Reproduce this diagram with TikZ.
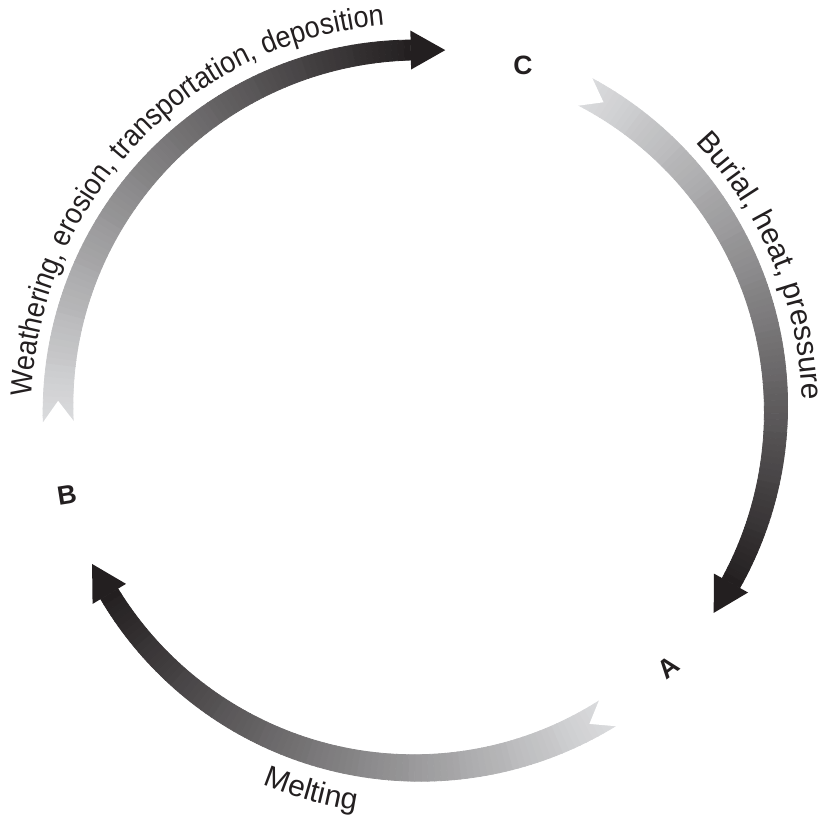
\documentclass[tikz,border=0pt]{standalone}
\usepackage{fontspec}
\setmainfont{Liberation Sans}
\newfontfamily\narrowfont[FakeStretch=0.9]{Liberation Sans}
\usetikzlibrary{decorations.text}

\definecolor{tailgray}{RGB}{218,219,221}
\definecolor{headgray}{RGB}{35,31,32}

\newcommand{\cyclesize}{\fontsize{15}{18}\selectfont}

\tikzset{
  stagelabel/.style={font=\fontsize{13.25}{16}\selectfont\bfseries, text=headgray, inner sep=0pt},
  arctext/.style={decorate, decoration={text along path, text align=center,
      text color=headgray, text={|\cyclesize|#1}}},
  narrowarctext/.style={decorate, decoration={text along path, text align=center,
      text color=headgray, text={|\narrowfont\cyclesize|#1}}}
}

\begin{document}
\begin{tikzpicture}[x=0.5pt, y=0.5pt]
    \useasboundingbox (-417,-409) rectangle (401,409);

    % Shaded arrows, one every 120 degrees
    \foreach \rot in {0,-120,-240} {
        \begin{scope}[rotate=\rot]
            \foreach \i in {0,...,89} {
                \pgfmathsetmacro{\a}{182-\i*91/90}
                \pgfmathsetmacro{\b}{182-(\i+1)*91/90}
                \pgfmathsetmacro{\ra}{359+15-5*\i/90}
                \pgfmathsetmacro{\rb}{359+15-5*(\i+1)/90}
                \pgfmathsetmacro{\sa}{359-15+5*\i/90}
                \pgfmathsetmacro{\sb}{359-15+5*(\i+1)/90}
                \pgfmathtruncatemacro{\p}{100*\i/89}
                \filldraw[fill=headgray!\p!tailgray, draw=headgray!\p!tailgray, line width=0.4pt]
                    (\a:\ra) -- (\b:\rb) -- (\b:\sb) -- (\a:\sa) -- cycle;
            }
            % Tail notch
            \fill[white] (182.6:377) -- (178.7:359) -- (182.6:341) -- cycle;
            % Head
            \fill[headgray] (91:378.5) -- (85.5:360) -- (91:339.5) -- cycle;
        \end{scope}
    }

    % Process labels
    \path[narrowarctext={Weathering, erosion, transportation, deposition}]
        (190:385) arc[start angle=190, end angle=83, radius=385];
    \path[arctext={Burial, heat, pressure}]
        (50:385) arc[start angle=50, end angle=-5, radius=385];
    \path[arctext={Melting}]
        (235:406) arc[start angle=235, end angle=274, radius=406];

    % Rock labels
    \node[stagelabel] (C) at (106,344) {C};
    \node[stagelabel, rotate=9] (B) at (-350,-86) {B};
    \node[stagelabel, rotate=38] (A) at (251,-258) {A};

\end{tikzpicture}
\end{document}
